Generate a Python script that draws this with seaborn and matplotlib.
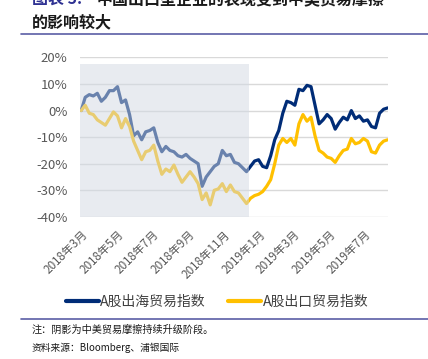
import pandas as pd
import numpy as np
import seaborn as sns
import matplotlib.pyplot as plt
import matplotlib.transforms as mtransforms

sns.set_theme(style="white")
plt.rcParams['font.family'] = ['Noto Sans CJK SC', 'DejaVu Sans']

# weekly readings, 2018-03-01 .. 2019-08-10 (percent)
dates = pd.date_range('2018-03-01', '2019-08-10', periods=77)
haiwai = [0, 5, 6, 5.5, 6.5, 3.5, 5, 7.5, 7.5, 9,
          3, 4, -1.5, -9.5, -8, -11, -8, -7.5, -6.5, -12,
          -15.5, -13.5, -15, -15.5, -17, -17.5, -16.5, -18, -19, -20,
          -28.5, -25, -23, -21, -20, -15, -17, -16.5, -19.5, -20,
          -21.5, -23, -21, -19, -18.5, -21, -21.5, -17, -11, -7.5,
          -1, 3.5, 3, 2, 8, 7.5, 9.5, 9, 2, -5,
          -3.5, -1.5, -3, -7, -4.5, -2.5, -3.5, 0, -3, -2,
          -4, -3.5, -6, -6.5, -1, 0.5, 1]
chukou = [0, 2, -1, -1.5, -3.5, -4.5, -5.5, -3, -0.5, -2,
          -6.5, -3, -6, -11.5, -15, -18.5, -15.5, -15, -13, -19,
          -24, -22, -23, -20.5, -24, -27, -25, -23, -25, -27.5,
          -33.5, -31, -35.5, -30, -29.5, -27.5, -30.5, -28, -30.5, -31,
          -33, -35, -33, -32, -31.5, -30.5, -28.5, -26, -20, -13,
          -10.5, -12, -10.5, -13, -5, -1.5, -4, -2.5, -9.5, -15,
          -16, -17.5, -18, -19.5, -17, -15, -14.5, -10.5, -12.5, -12,
          -10.5, -11.5, -15.5, -16, -13, -11.5, -11]
tick_dates = pd.date_range('2018-03-01', '2019-07-01', freq='2MS')
tick_labels = ['2018年3月', '2018年5月', '2018年7月', '2018年9月', '2018年11月',
               '2019年1月', '2019年3月', '2019年5月', '2019年7月']
shade_start, shade_end, shade_top = '2018-02-27', '2018-12-15', 17.5

df = pd.DataFrame({'date': dates, 'A股出海贸易指数': haiwai, 'A股出口贸易指数': chukou})

fig = plt.figure(figsize=(4.28, 3.59), dpi=100)
ax = fig.add_axes([0.187, 0.396, 0.72, 0.444])

navy = '#002C77'
gold = '#FFC000'
sns.lineplot(data=df, x='date', y='A股出海贸易指数', color=navy, lw=2.3, ax=ax,
             label='A股出海贸易指数')
sns.lineplot(data=df, x='date', y='A股出口贸易指数', color=gold, lw=2.3, ax=ax,
             label='A股出口贸易指数')

# shaded period drawn on top, semi transparent
ax.fill_between(pd.to_datetime([shade_start, shade_end]), -40, shade_top,
                color='#D3D9E3', alpha=0.5, lw=0, zorder=5)

ax.set_ylim(-40, 20)
ax.set_xlim(pd.Timestamp('2018-02-27'), pd.Timestamp('2019-08-11'))
ax.set_yticks(np.arange(-40, 21, 10))
ax.set_yticklabels([f'{v}%' for v in range(-40, 21, 10)], fontsize=9.5, color='#595959')
ax.set_xticks(tick_dates)
ax.set_xticklabels(tick_labels, rotation=45, ha='right', rotation_mode='anchor',
                   fontsize=8.4, color='#595959')
shift = mtransforms.ScaledTranslation(-5 / 100, 0, fig.dpi_scale_trans)
for t in ax.get_xticklabels():
    t.set_transform(t.get_transform() + shift)
ax.tick_params(axis='y', length=0, pad=9)
ax.tick_params(axis='x', length=0, pad=8)
ax.grid(axis='y', color='#D9D9D9', lw=1)
ax.set_axisbelow(True)
for s in ax.spines.values():
    s.set_visible(False)
ax.set_xlabel('')
ax.set_ylabel('')

ax.legend(loc='center', bbox_to_anchor=(0.507, 0.159), bbox_transform=fig.transFigure,
          ncol=2, frameon=False, fontsize=10, handlelength=2.4, columnspacing=1.6,
          handletextpad=0.1, labelcolor='#404040')
for l in ax.get_legend().get_lines():
    l.set_linewidth(3)

# title and rules
fig.text(32 / 428, 1 - (-1) / 359, '图表 5:', fontsize=11.5, fontweight='bold',
         color='#2E3192', va='center')
fig.text(97 / 428, 1 - (-1) / 359, '中国出口型企业的表现受到中美贸易摩擦', fontsize=11.5,
         fontweight='bold', color='#1a1a1a', va='center')
fig.text(32 / 428, 1 - 22 / 359, '的影响较大', fontsize=11.5, fontweight='bold',
         color='#1a1a1a', va='center')
fig.add_artist(plt.Line2D([21 / 428, 1], [1 - 34 / 359] * 2, color='#5B5EA6', lw=1.2))
fig.add_artist(plt.Line2D([21 / 428, 1], [1 - 319 / 359] * 2, color='#5B5EA6', lw=1.2))
fig.text(32 / 428, 1 - 330 / 359, '注：阴影为中美贸易摩擦持续升级阶段。', fontsize=7.3,
         color='#1a1a1a', va='center')
fig.text(32 / 428, 1 - 348 / 359, '资料来源：Bloomberg、浦银国际', fontsize=7.0,
         color='#1a1a1a', va='center')

fig.savefig('out.png', dpi=100)
